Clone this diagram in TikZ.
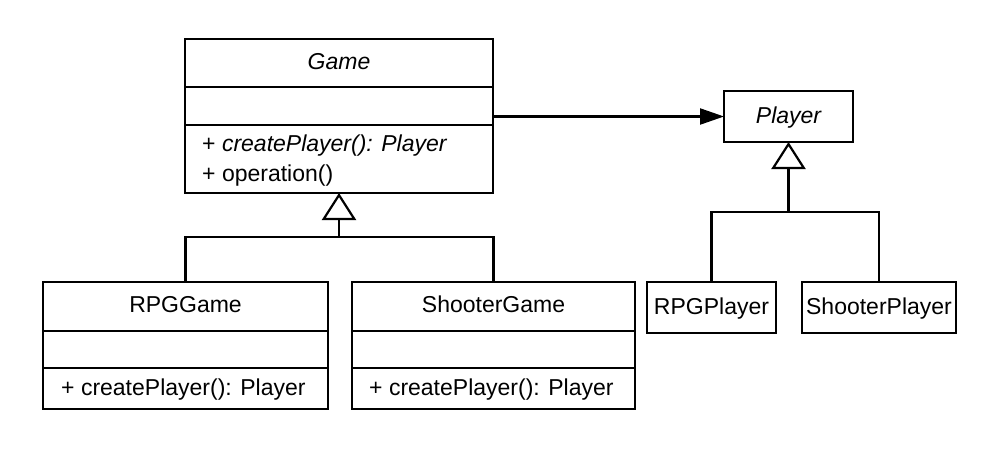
\documentclass[tikz,border=0pt]{standalone}
\usepackage{fontspec}
\setmainfont{Liberation Sans}
\usetikzlibrary{arrows.meta}
\begin{document}
\begin{tikzpicture}[x=1pt,y=-1pt,
  box/.style={draw, line width=2.2pt, inner sep=0pt, outer sep=0pt, anchor=north west},
  lbl/.style={font=\fontsize{23}{28}\selectfont, inner sep=0pt},
  ln/.style={line width=2.2pt, line join=miter},
  inh/.style={ln, -{Triangle[open, length=27pt, width=34pt]}},
  assoc/.style={ln, -{Triangle[length=24pt, width=16pt]}}]
\useasboundingbox (0,0) rectangle (1008,450);
% Game
\node[box, minimum width=308pt, minimum height=154pt] (game) at (185,39) {};
\draw[ln] (game.west |- 0,87) -- (game.east |- 0,87);
\draw[ln] (game.west |- 0,125) -- (game.east |- 0,125);
\node[lbl, anchor=base] (gameT) at (game.north |- 0,69) {\itshape Game};
\node[lbl, anchor=base west] (gm1) at (202,151) {+ \itshape createPlayer(): Player};
\node[lbl, anchor=base west] (gm2) at (202,181) {+ operation()};
% RPGGame
\node[box, minimum width=285pt, minimum height=127pt] (rpggame) at (43,282) {};
\draw[ln] (rpggame.west |- 0,331) -- (rpggame.east |- 0,331);
\draw[ln] (rpggame.west |- 0,368) -- (rpggame.east |- 0,368);
\node[lbl, anchor=base] (rpgT) at (rpggame.north |- 0,312) {RPGGame};
\node[lbl, anchor=base west] (rpgM) at (61,395) {+ createPlayer(): Player};
% ShooterGame
\node[box, minimum width=283pt, minimum height=127pt] (shootergame) at (352,282) {};
\draw[ln] (shootergame.west |- 0,331) -- (shootergame.east |- 0,331);
\draw[ln] (shootergame.west |- 0,368) -- (shootergame.east |- 0,368);
\node[lbl, anchor=base] (shT) at (shootergame.north |- 0,312) {ShooterGame};
\node[lbl, anchor=base west] (shM) at (369,395) {+ createPlayer(): Player};
% Player
\node[box, minimum width=129pt, minimum height=51pt] (player) at (724,91) {};
\node[lbl, anchor=base] (playerT) at (player.north |- 0,123) {\itshape Player};
\node[box, minimum width=129pt, minimum height=51pt] (rpgplayer) at (647,282) {};
\node[lbl, anchor=base] (rpT) at (rpgplayer.north |- 0,314) {RPGPlayer};
\node[box, minimum width=154pt, minimum height=51pt] (shplayer) at (802,282) {};
\node[lbl, anchor=base] (spT) at (shplayer.north |- 0,314) {ShooterPlayer};
% connectors
\coordinate (gbus) at (game.south |- 0,237);
\draw[ln] (rpggame.north) |- (gbus) -| (shootergame.north);
\draw[inh] (gbus) -- (game.south);
\coordinate (pbus) at (player.south |- 0,212);
\draw[ln] (rpgplayer.north) |- (pbus) -| (shplayer.north);
\draw[inh] (pbus) -- (player.south);
\draw[assoc] (game.east |- player.west) -- (player.west);
\end{tikzpicture}
\end{document}
